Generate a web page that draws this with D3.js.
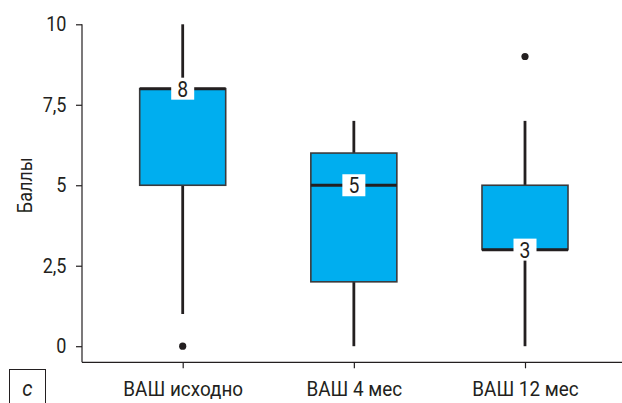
<!DOCTYPE html>
<html>
<head>
<meta charset="utf-8">
<script src="https://cdn.jsdelivr.net/npm/d3@7/dist/d3.min.js"></script>
<style>
  html, body { margin: 0; padding: 0; background: #fff; }
  svg { display: block; }
  text { font-family: Roboto, "DejaVu Sans Condensed", sans-serif; fill: #231f20; }
</style>
</head>
<body>
<svg id="chart" width="622" height="403"></svg>
<script>
// Pain scores (VAS) at three time points
const categories = ["ВАШ исходно", "ВАШ 4 мес", "ВАШ 12 мес"];
const whiskerLow  = [1, 0, 0];
const q1          = [5, 2, 3];
const median      = [8, 5, 3];
const q3          = [8, 6, 5];
const whiskerHigh = [10, 7, 7];
const outliers    = [[0], [], [9]];
const yTicks      = [0, 2.5, 5, 7.5, 10];
const yTickLabels = ["0", "2,5", "5", "7,5", "10"];

const svg = d3.select("#chart");
const W = 622, H = 403;
const m = { left: 82, right: 0, top: 24.3, bottom: 40.7 };
const K = 0.88;  // horizontal squeeze for a condensed look
const KX = 0.9;  // category labels

const x = d3.scalePoint().domain(categories).range([182.7, 525]);
const y = d3.scaleLinear().domain([-0.5, 10]).range([H - m.bottom, m.top]);

const ink = "#231f20";
const fill = "#00aeef";
const boxW = 86;

// y axis
const yAxis = d3.axisLeft(y).tickValues(yTicks)
  .tickFormat((d, i) => yTickLabels[i]).tickSize(6).tickPadding(6);
const gy = svg.append("g").attr("transform", `translate(${m.left},0)`).call(yAxis);
gy.select(".domain").attr("d", `M0,${y(10)}V${y(-0.5)}`).attr("stroke", ink).attr("stroke-width", 1.2);
gy.selectAll(".tick line").attr("stroke", ink).attr("stroke-width", 1.2);
gy.selectAll(".tick text").attr("font-size", 20.5).attr("fill", ink)
  .style("font-family", "Roboto, sans-serif")
  .attr("x", -15.5 / K).attr("transform", `scale(${K},1)`);

// x axis
const xAxis = d3.axisBottom(x).tickSize(6).tickPadding(13);
const gx = svg.append("g").attr("transform", `translate(0,${y(-0.5)})`).call(xAxis);
gx.select(".domain").attr("d", `M${m.left},0H${W}`).attr("stroke", ink).attr("stroke-width", 1.2);
gx.selectAll(".tick line").attr("stroke", ink).attr("stroke-width", 1.2);
gx.selectAll(".tick text").attr("font-size", 21).attr("fill", ink)
  .style("font-family", "Roboto, sans-serif")
  .attr("transform", `scale(${KX},1)`);

// y axis title
svg.append("text")
  .attr("transform", `translate(25,${y(5)}) rotate(-90) scale(${KX},1)`)
  .attr("text-anchor", "middle").attr("dy", "0.35em")
  .attr("font-size", 20).text("Баллы");

// panel letter
svg.append("rect").attr("x", 9.5).attr("y", 369.5).attr("width", 36).attr("height", 40)
  .attr("fill", "none").attr("stroke", ink).attr("stroke-width", 1);
svg.append("text").attr("transform", `translate(27.5,396) scale(0.92,1)`).attr("text-anchor", "middle")
  .attr("font-size", 22).attr("font-style", "italic").text("с");

const data = categories.map((c, i) => ({
  c, lo: whiskerLow[i], q1: q1[i], med: median[i], q3: q3[i], hi: whiskerHigh[i], out: outliers[i]
}));

const g = svg.append("g");
data.forEach(d => {
  const cx = x(d.c);
  // whiskers
  g.append("line").attr("x1", cx).attr("x2", cx).attr("y1", y(d.hi)).attr("y2", y(d.q3))
    .attr("stroke", ink).attr("stroke-width", 2.8);
  g.append("line").attr("x1", cx).attr("x2", cx).attr("y1", y(d.q1)).attr("y2", y(d.lo))
    .attr("stroke", ink).attr("stroke-width", 2.8);
  // box
  g.append("rect").attr("x", cx - boxW / 2).attr("y", y(d.q3))
    .attr("width", boxW).attr("height", y(d.q1) - y(d.q3))
    .attr("fill", fill).attr("stroke", "#3a3a3c").attr("stroke-width", 1.6);
  // median
  g.append("line").attr("x1", cx - boxW / 2).attr("x2", cx + boxW / 2)
    .attr("y1", y(d.med)).attr("y2", y(d.med))
    .attr("stroke", ink).attr("stroke-width", 3);
  // median label
  g.append("rect").attr("x", cx - 11.5).attr("y", y(d.med) - 11)
    .attr("width", 23).attr("height", 22).attr("fill", "#fff");
  g.append("text").attr("transform", `translate(${cx},${y(d.med)}) scale(${K},1)`).attr("dy", "0.36em")
    .attr("text-anchor", "middle").attr("font-size", 22).text(d.med);
  // outliers
  d.out.forEach(v => {
    g.append("circle").attr("cx", cx).attr("cy", y(v)).attr("r", 3.6).attr("fill", ink);
  });
});
</script>
</body>
</html>
